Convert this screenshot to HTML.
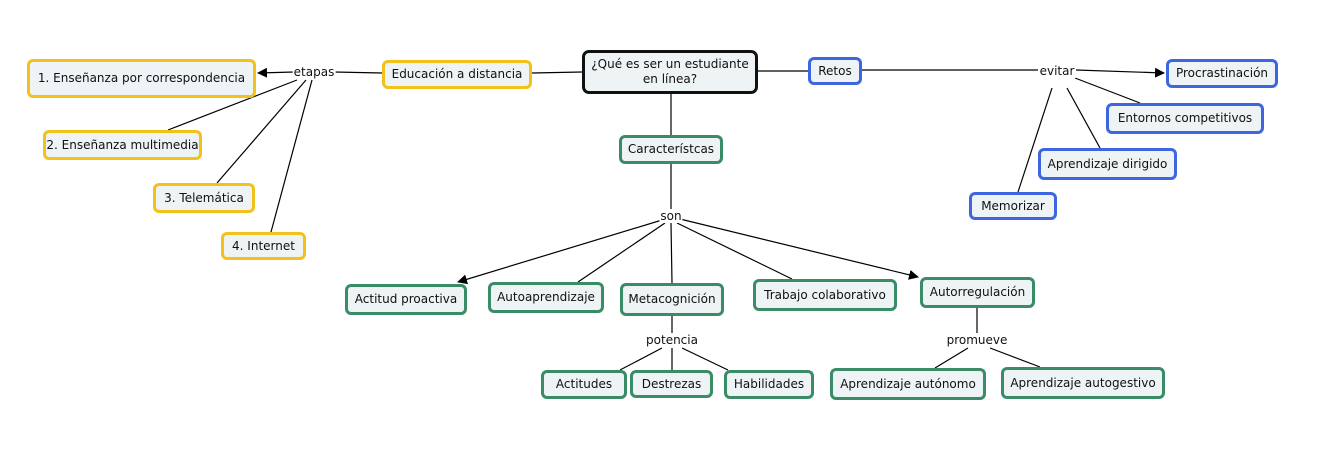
<!DOCTYPE html>
<html><head><meta charset="utf-8"><style>
body{margin:0;width:1335px;height:473px;background:#fff;position:relative;overflow:hidden;font-family:"DejaVu Sans","Liberation Sans",sans-serif;font-size:12px;color:#111}
.b{position:absolute;box-sizing:border-box;background:#eef3f5;border-radius:6px;display:flex;align-items:center;justify-content:center;text-align:center;white-space:nowrap;line-height:15px}
.y{border:3px solid #f2c21b}.u{border:3px solid #3d66e0}.g{border:3px solid #3a8c66}
.k{border:3px solid #111;border-radius:7px;white-space:normal}
.l{position:absolute;background:#fff;padding:0 1px;white-space:nowrap;transform:translate(-50%,-50%)}
svg{position:absolute;left:0;top:0}
</style></head><body>
<svg width="1335" height="473"><defs><marker id="a" markerWidth="10" markerHeight="10" refX="9" refY="5" orient="auto" markerUnits="userSpaceOnUse"><path d="M0,0 L10,5 L0,10z" fill="#000"/></marker></defs>
<g stroke="#000" stroke-width="1.2" fill="none">
<line x1="382" y1="73" x2="334" y2="72"/>
<line x1="294" y1="72" x2="258" y2="73" marker-end="url(#a)"/>
<line x1="297" y1="80" x2="168" y2="130"/>
<line x1="306" y1="80" x2="217" y2="183"/>
<line x1="312" y1="80" x2="271" y2="232"/>
<line x1="532" y1="73" x2="582" y2="72"/>
<line x1="758" y1="71" x2="808" y2="71"/>
<line x1="862" y1="70" x2="1038" y2="70"/>
<line x1="1076" y1="70" x2="1164" y2="73" marker-end="url(#a)"/>
<line x1="1075" y1="78" x2="1140" y2="103"/>
<line x1="1067" y1="88" x2="1100" y2="148"/>
<line x1="1052" y1="88" x2="1018" y2="192"/>
<line x1="671" y1="94" x2="671" y2="135"/>
<line x1="671" y1="164" x2="671" y2="210"/>
<line x1="662" y1="220" x2="458" y2="282" marker-end="url(#a)"/>
<line x1="665" y1="223" x2="578" y2="282"/>
<line x1="671" y1="223" x2="672" y2="283"/>
<line x1="677" y1="223" x2="792" y2="279"/>
<line x1="680" y1="219" x2="918" y2="277" marker-end="url(#a)"/>
<line x1="672" y1="316" x2="672" y2="333"/>
<line x1="662" y1="348" x2="620" y2="370"/>
<line x1="672" y1="348" x2="672" y2="370"/>
<line x1="682" y1="348" x2="728" y2="370"/>
<line x1="977" y1="308" x2="977" y2="333"/>
<line x1="968" y1="348" x2="935" y2="368"/>
<line x1="990" y1="348" x2="1040" y2="367"/>
</g></svg>
<div class="b k" style="left:582px;top:50px;width:176px;height:44px">¿Qué es ser un estudiante<br>en línea?</div>
<div class="b y" style="left:382px;top:60px;width:150px;height:29px">Educación a distancia</div>
<div class="b y" style="left:27px;top:59px;width:229px;height:39px">1. Enseñanza por correspondencia</div>
<div class="b y" style="left:43px;top:130px;width:159px;height:30px">2. Enseñanza multimedia</div>
<div class="b y" style="left:153px;top:183px;width:102px;height:30px">3. Telemática</div>
<div class="b y" style="left:221px;top:232px;width:85px;height:28px">4. Internet</div>
<div class="l" style="left:314px;top:72px">etapas</div>
<div class="b u" style="left:808px;top:57px;width:54px;height:28px">Retos</div>
<div class="l" style="left:1057px;top:71px">evitar</div>
<div class="b u" style="left:1166px;top:59px;width:112px;height:29px">Procrastinación</div>
<div class="b u" style="left:1106px;top:103px;width:158px;height:31px">Entornos competitivos</div>
<div class="b u" style="left:1038px;top:148px;width:139px;height:32px">Aprendizaje dirigido</div>
<div class="b u" style="left:969px;top:192px;width:88px;height:28px">Memorizar</div>
<div class="b g" style="left:619px;top:135px;width:104px;height:29px">Característcas</div>
<div class="l" style="left:671px;top:216px">son</div>
<div class="b g" style="left:345px;top:284px;width:122px;height:31px">Actitud proactiva</div>
<div class="b g" style="left:488px;top:282px;width:116px;height:31px">Autoaprendizaje</div>
<div class="b g" style="left:620px;top:283px;width:104px;height:33px">Metacognición</div>
<div class="b g" style="left:753px;top:279px;width:144px;height:32px">Trabajo colaborativo</div>
<div class="b g" style="left:920px;top:277px;width:115px;height:31px">Autorregulación</div>
<div class="l" style="left:672px;top:340px">potencia</div>
<div class="l" style="left:977px;top:340px">promueve</div>
<div class="b g" style="left:541px;top:370px;width:86px;height:29px">Actitudes</div>
<div class="b g" style="left:630px;top:370px;width:83px;height:28px">Destrezas</div>
<div class="b g" style="left:724px;top:370px;width:90px;height:29px">Habilidades</div>
<div class="b g" style="left:830px;top:368px;width:156px;height:32px">Aprendizaje autónomo</div>
<div class="b g" style="left:1001px;top:367px;width:164px;height:32px">Aprendizaje autogestivo</div>
</body></html>
